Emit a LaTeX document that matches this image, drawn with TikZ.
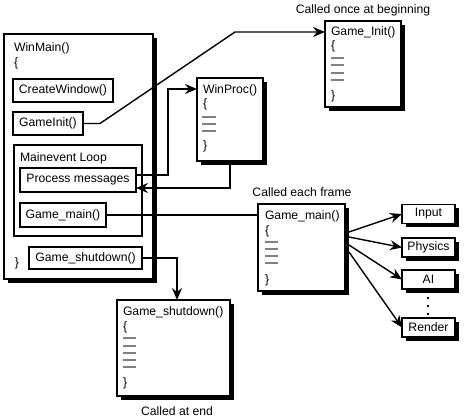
\documentclass[tikz,border=0pt]{standalone}
\usepackage{fontspec}
\setmainfont{Liberation Sans}
\usetikzlibrary{arrows.meta,shadows,calc}
\begin{document}
\begin{tikzpicture}[x=1pt,y=-1pt,
  every node/.style={font=\fontsize{12.2}{14}\selectfont, inner sep=0pt, outer sep=0pt},
  box/.style={draw, line width=1.3pt, fill=white, anchor=north west},
  shbox/.style={box, drop shadow={shadow xshift=4pt, shadow yshift=-4pt, opacity=1, fill=black}},
  ibox/.style={draw, line width=1.2pt, fill=white, align=center},
  rbox/.style={ibox, minimum width=53pt, minimum height=19pt, drop shadow={shadow xshift=4pt, shadow yshift=-4pt, opacity=1, fill=black}},
  txt/.style={anchor=base west},
  lbl/.style={anchor=base},
  cline/.style={line width=1.4pt},
  arr/.style={cline, -{Stealth[length=12pt,width=10pt,inset=4pt]}},
  code/.style={black!50, line width=1.6pt},
  dot/.style={fill=black, circle, minimum size=2.8pt},
]
\useasboundingbox (0,0) rectangle (467,419);

% ---- WinMain ----
\node[shbox, minimum width=149pt, minimum height=245pt] (wm) at (4,34) {};
\node[txt] (wmt) at (14,52) {WinMain()};
\node[txt] (wmo) at (14,67) {\{};
\node[txt] (wmc) at (15,267) {\}};
\node[ibox, minimum width=100pt, minimum height=23pt] (cw) at (63,90.5) {CreateWindow()};
\node[ibox, minimum width=70pt, minimum height=23pt] (gi) at (48,123.5) {GameInit()};
\node[box, minimum width=128pt, minimum height=91pt] (ml) at (14,145) {};
\node[txt] (mlt) at (20,162) {Mainevent Loop};
\node[ibox, minimum width=116pt, minimum height=24pt] (pm) at (78,180) {Process messages};
\node[ibox, minimum width=86pt, minimum height=24pt] (gm) at (63,215) {Game\_main()};
\node[ibox, minimum width=113pt, minimum height=22pt] (gs) at (85.5,258) {Game\_shutdown()};

% ---- WinProc ----
\node[shbox, minimum width=66pt, minimum height=83pt] (wp) at (197,78) {};
\node[txt] (wpt) at (203,94) {WinProc()};
\node[txt] (wpo) at (203,108) {\{};
\node[txt] (wpc) at (203,150) {\}};
\foreach \yy in {117,124,131} \draw[code] (202,\yy) -- ++(14,0);

% ---- Game_Init ----
\node[lbl] (l1) at (363,14) {Called once at beginning};
\node[shbox, minimum width=76pt, minimum height=86pt] (ginit) at (325,21) {};
\node[txt] (git) at (331,36) {Game\_Init()};
\node[txt] (gio) at (331,50) {\{};
\node[txt] (gic) at (331,100) {\}};
\foreach \yy in {58,65,73,80} \draw[code] (331,\yy) -- ++(13,0);

% ---- Game_main ----
\node[lbl] (l2) at (302,197) {Called each frame};
\node[shbox, minimum width=87pt, minimum height=87pt] (gmb) at (258,204) {};
\node[txt] (gmt) at (265,220) {Game\_main()};
\node[txt] (gmo) at (265,235) {\{};
\node[txt] (gmc) at (265,284) {\}};
\foreach \yy in {242,249,256,263} \draw[code] (265,\yy) -- ++(13,0);

% ---- Game_shutdown ----
\node[shbox, minimum width=113pt, minimum height=96pt] (gsb) at (117,300) {};
\node[txt] (gst) at (123,316) {Game\_shutdown()};
\node[txt] (gso) at (123,331) {\{};
\node[txt] (gsc) at (123,387) {\}};
\foreach \yy in {338,346,353,360,367} \draw[code] (123,\yy) -- ++(13,0);
\node[lbl] (l3) at (177,416) {Called at end};

% ---- right boxes ----
\node[rbox] (in) at (428.5,214) {Input};
\node[rbox] (ph) at (428.5,247.5) {Physics};
\node[rbox] (ai) at (428.5,279.5) {AI};
\node[rbox] (re) at (428.5,327.5) {Render};
\node[dot] (d1) at (428,298) {};
\node[dot] (d2) at (428,306) {};
\node[dot] (d3) at (428,314) {};

% ---- connectors ----
\coordinate (c1) at (100,123.5);
\coordinate (c2) at (235,32);
\draw[arr] (gi.east) -- (c1) -- (c2) -- (c2 -| ginit.west);

\coordinate (p1) at ($(pm.north east)+(0,7)$);
\coordinate (k1) at (168,175);
\coordinate (k2) at (168,89);
\draw[arr] (p1) -- (k1) -- (k2) -- (k2 -| wp.west);

\coordinate (r1) at (230,188);
\draw[arr] ([yshift=-4pt]wp.south) -- (r1) -- (r1 -| pm.east);

\draw[cline] (gm.east) -- (gm.east -| gmb.west);

\coordinate (s1) at (177,258);
\draw[arr] (gs.east) -- (s1) -- (s1 |- gsb.north);

\coordinate (o1) at ($(gmb.north east)+(4,28)$);
\coordinate (o2) at ($(gmb.north east)+(4,33)$);
\coordinate (o3) at ($(gmb.north east)+(4,41)$);
\coordinate (o4) at ($(gmb.north east)+(4,48)$);
\draw[arr] (o1) -- (in.west);
\draw[arr] (o2) -- (ph.west);
\draw[arr] (o3) -- (ai.west);
\draw[arr] (o4) -- (re.west);
\end{tikzpicture}
\end{document}
